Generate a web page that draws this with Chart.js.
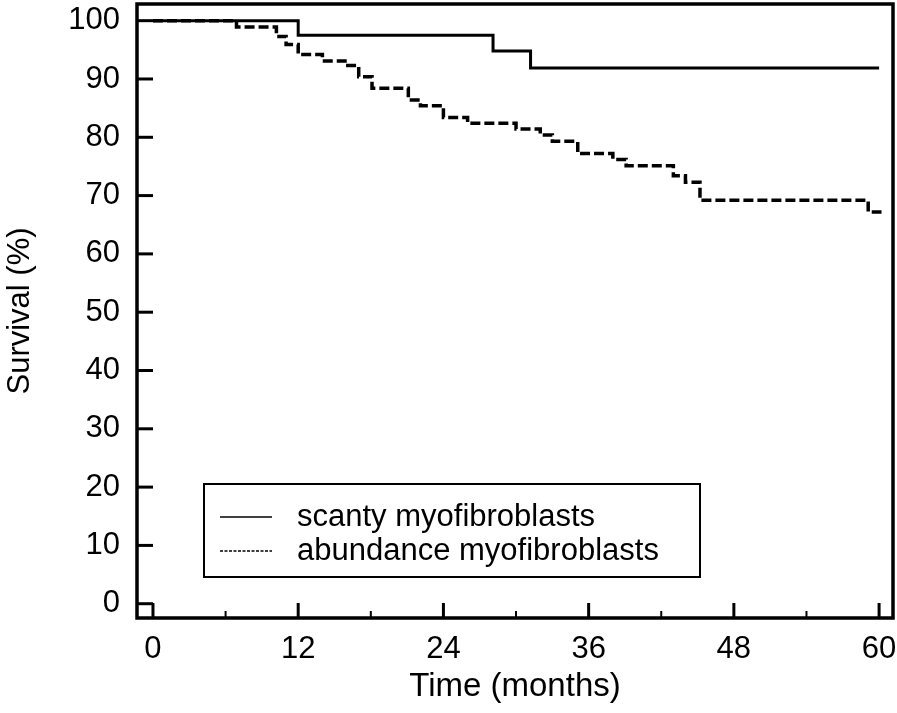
<!DOCTYPE html>
<html>
<head>
<meta charset="utf-8">
<script src="https://cdn.jsdelivr.net/npm/chart.js@4.4.0/dist/chart.umd.min.js"></script>
<style>
  html, body { margin: 0; padding: 0; background: #fff; }
  #wrap { width: 897px; height: 713px; }
</style>
</head>
<body>
<div id="wrap"><canvas id="km"></canvas></div>
<script>
// survival data (months, %)
const scantyTime = [0, 12, 28.1, 31.2, 60];
const scantySurv = [100, 97.5, 94.8, 91.9, 91.9];

const abundTime = [0, 6.9, 10.2, 11.0, 12.0, 14.0, 16.1, 17.0, 18.1, 21.1, 22.1, 24.0,
                   26.0, 30.0, 32.0, 33.0, 35.1, 38.0, 39.1, 43.0, 44.0, 45.2, 59.1, 60.2];
const abundSurv = [100, 98.9, 97.3, 95.9, 94.2, 93.1, 92.3, 90.4, 88.4, 86.4, 85.4, 83.4,
                   82.4, 81.4, 80.4, 79.3, 77.2, 76.2, 75.1, 73.4, 72.3, 69.2, 67.2, 67.2];

const yTicks = [0, 10, 20, 30, 40, 50, 60, 70, 80, 90, 100];
const xTicks = [0, 12, 24, 36, 48, 60];
const xMinor = [6, 18, 30, 42, 54];

const FONT = "'Liberation Sans', Arial, sans-serif";

function pts(t, s) {
  return t.map((v, i) => ({x: v, y: s[i]}));
}

// box around the plot + inward tick marks
const frame = {
  id: 'frame',
  afterDraw(chart) {
    const {ctx, chartArea: a, scales: {x, y}} = chart;
    ctx.save();
    ctx.strokeStyle = '#000';
    ctx.lineWidth = 3;
    yTicks.forEach(v => {
      const py = y.getPixelForValue(v);
      ctx.beginPath(); ctx.moveTo(a.left, py); ctx.lineTo(a.left + 16, py); ctx.stroke();
    });
    xTicks.forEach(v => {
      const px = x.getPixelForValue(v);
      ctx.beginPath(); ctx.moveTo(px, a.bottom); ctx.lineTo(px, a.bottom - 15); ctx.stroke();
    });
    ctx.lineWidth = 2;
    xMinor.forEach(v => {
      const px = x.getPixelForValue(v);
      ctx.beginPath(); ctx.moveTo(px, a.bottom); ctx.lineTo(px, a.bottom - 7); ctx.stroke();
    });
    ctx.lineWidth = 3.5;
    ctx.strokeRect(a.left, a.top, a.right - a.left, a.bottom - a.top);
    ctx.restore();
  }
};

// legend box inside the plot
const legendBox = {
  id: 'legendBox',
  afterDraw(chart) {
    const {ctx, chartArea: a} = chart;
    const bx = a.left + 67, by = a.top + 480, bw = 496, bh = 93;
    ctx.save();
    ctx.fillStyle = '#fff';
    ctx.fillRect(bx, by, bw, bh);
    ctx.strokeStyle = '#000';
    ctx.lineWidth = 2;
    ctx.strokeRect(bx, by, bw, bh);
    ctx.font = '31px ' + FONT;
    ctx.fillStyle = '#000';
    ctx.textBaseline = 'middle';
    chart.data.datasets.forEach((ds, i) => {
      const ly = by + 33 + i * 34;
      ctx.lineWidth = 1.5;
      ctx.setLineDash(ds.borderDash && ds.borderDash.length ? [3, 1.5] : []);
      ctx.beginPath(); ctx.moveTo(bx + 16, ly); ctx.lineTo(bx + 68, ly); ctx.stroke();
      ctx.setLineDash([]);
      ctx.fillText(ds.label, bx + 93, ly);
    });
    ctx.restore();
  }
};

new Chart(document.getElementById('km'), {
  type: 'line',
  data: {
    datasets: [{
      label: 'scanty myofibroblasts',
      data: pts(scantyTime, scantySurv),
      borderColor: '#000',
      borderWidth: 3,
      stepped: 'before',
      pointRadius: 0
    }, {
      label: 'abundance myofibroblasts',
      data: pts(abundTime, abundSurv),
      borderColor: '#000',
      borderWidth: 3.5,
      borderDash: [10, 4],
      stepped: 'before',
      pointRadius: 0
    }]
  },
  options: {
    responsive: true,
    maintainAspectRatio: false,
    animation: false,
    layout: { padding: { top: 4, right: 4 } },
    plugins: {
      legend: { display: false },
      tooltip: { enabled: false }
    },
    scales: {
      x: {
        type: 'linear',
        min: -1.32,
        max: 61.15,
        afterBuildTicks: s => { s.ticks = xTicks.map(v => ({value: v})); },
        afterFit: s => { s.height = 95; s.paddingLeft = 0; s.paddingRight = 0; },
        grid: { display: false, drawTicks: false },
        border: { display: false },
        ticks: { color: '#000', font: { family: FONT, size: 31 }, padding: 13, maxRotation: 0 },
        title: { display: true, text: 'Time (months)', color: '#000',
                 font: { family: FONT, size: 33 }, padding: { top: 0, bottom: 6 } }
      },
      y: {
        min: -2.45,
        max: 102.86,
        afterBuildTicks: s => { s.ticks = yTicks.map(v => ({value: v})); },
        afterFit: s => { s.width = 137; s.paddingTop = 0; s.paddingBottom = 0; },
        grid: { display: false, drawTicks: false },
        border: { display: false },
        ticks: { color: '#000', font: { family: FONT, size: 31 }, padding: 17 },
        title: { display: true, text: 'Survival (%)', color: '#000',
                 font: { family: FONT, size: 31 }, padding: { top: 2, bottom: 0 } }
      }
    }
  },
  plugins: [frame, legendBox]
});
</script>
</body>
</html>
